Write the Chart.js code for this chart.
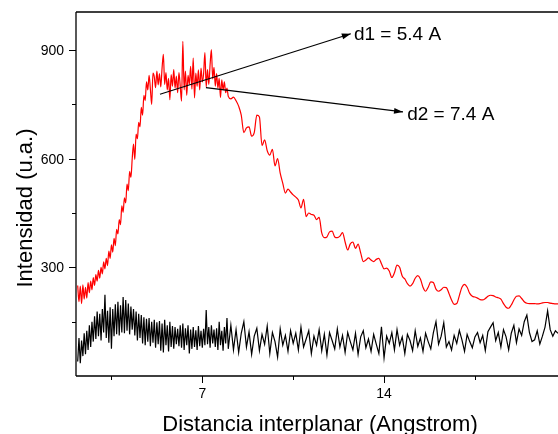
<!DOCTYPE html>
<html>
<head>
<meta charset="utf-8">
<script src="https://cdn.jsdelivr.net/npm/chart.js@4/dist/chart.umd.min.js"></script>
<style>
  html, body { margin: 0; padding: 0; background: #fff; }
  #wrap { width: 558px; height: 434px; position: relative; }
</style>
</head>
<body>
<div id="wrap"><canvas id="c"></canvas></div>
<script>
// interplanar distance (Angstrom), shared by both curves
const distance = [
  2.20,2.25,2.30,2.35,2.40,2.45,2.50,2.55,2.60,2.65,2.70,2.75,2.80,2.85,2.90,2.95,
  3.00,3.05,3.10,3.15,3.20,3.25,3.30,3.35,3.40,3.45,3.50,3.55,3.60,3.65,3.70,3.75,3.80,3.85,3.90,3.95,
  4.00,4.05,4.10,4.15,4.20,4.25,4.30,4.35,4.40,4.45,4.50,4.55,4.60,4.65,4.70,4.75,4.80,4.85,4.90,4.95,
  5.00,5.05,5.10,5.15,5.20,5.25,5.30,5.35,5.40,5.45,5.50,5.55,5.60,5.65,5.70,5.75,5.80,5.85,5.90,5.95,
  6.00,6.05,6.10,6.15,6.20,6.25,6.30,6.35,6.40,6.45,6.50,6.55,6.60,6.65,6.70,6.75,6.80,6.85,6.90,6.95,
  7.00,7.05,7.10,7.15,7.20,7.25,7.30,7.35,7.40,7.45,7.50,7.55,7.60,7.65,7.70,7.75,7.80,7.85,7.90,7.95,
  8.00,8.1,8.2,8.3,8.4,8.5,8.6,8.7,8.8,8.9,
  9.0,9.1,9.2,9.3,9.4,9.5,9.6,9.7,9.8,9.9,
  10.0,10.1,10.2,10.3,10.4,10.5,10.6,10.7,10.8,10.9,
  11.0,11.1,11.2,11.3,11.4,11.5,11.6,11.7,11.8,11.9,
  12.0,12.1,12.2,12.3,12.4,12.5,12.6,12.7,12.8,12.9,
  13.0,13.1,13.2,13.3,13.4,13.5,13.6,13.7,13.8,13.9,
  14.0,14.1,14.2,14.3,14.4,14.5,14.6,14.7,14.8,14.9,
  15.0,15.1,15.2,15.3,15.4,15.5,15.6,15.7,15.8,15.9,
  16.0,16.1,16.2,16.3,16.4,16.5,16.6,16.7,16.8,16.9,
  17.0,17.1,17.2,17.3,17.4,17.5,17.6,17.7,17.8,17.9,
  18.0,18.1,18.2,18.3,18.4,18.5,18.6,18.7,18.8,18.9,
  19.0,19.1,19.2,19.3,19.4,19.5,19.6,19.7,19.8,19.9,
  20.0,20.1,20.2,20.3,20.4,20.5,20.6,20.7
];

// red curve
const redIntensity = [
  250,205,248,200,252,212,245,215,258,230,262,238,272,250,280,262,
  292,270,300,282,315,296,325,305,345,325,362,342,380,360,405,392,432,418,470,452,
  492,478,530,512,565,548,600,640,598,668,655,700,688,742,720,775,760,812,790,830,
  792,750,836,826,796,842,804,835,798,850,888,805,838,790,822,763,832,800,846,795,
  828,782,838,800,759,924,790,842,775,830,805,855,792,878,768,836,800,845,790,850,
  812,835,893,798,846,805,860,901,820,852,800,835,795,822,769,818,790,812,782,795,
  772,765,770,760,745,720,672,685,688,662,
  672,720,715,636,652,622,610,626,580,600,
  560,532,505,516,508,500,494,486,464,488,
  440,450,446,444,432,438,395,382,384,398,
  400,384,382,386,396,370,348,365,370,352,
  364,340,316,320,326,320,316,322,325,310,
  296,298,290,272,285,306,300,276,268,255,
  248,255,270,277,268,245,234,245,260,258,
  240,234,238,245,244,228,210,198,200,222,
  245,253,245,228,220,218,215,211,210,214,
  220,223,222,218,216,212,200,190,187,196,
  210,220,221,214,205,201,200,200,200,199,
  200,202,203,203,201,200,199,199
];

// black curve
const blackIntensity = [
  40,105,35,98,55,118,60,125,72,140,80,150,95,165,102,178,
  110,172,98,185,120,224,105,180,92,190,75,185,110,198,115,205,112,195,120,218,
  118,210,125,200,115,192,128,185,112,178,98,172,105,168,90,162,85,158,95,160,
  82,150,92,155,78,148,88,152,70,145,65,155,85,140,68,150,80,138,75,135,
  88,130,82,140,78,145,72,132,85,140,62,128,75,135,80,126,72,138,82,125,
  78,130,85,182,88,135,78,140,90,128,80,132,72,150,85,125,70,135,90,160,
  75,140,72,128,65,118,150,80,122,60,
  110,132,70,115,88,138,62,120,95,52,
  130,85,112,68,125,90,118,72,135,80,
  102,125,62,110,85,128,70,115,58,120,
  98,75,130,80,112,65,120,95,72,118,
  60,108,125,78,102,68,115,88,62,136,
  50,110,90,120,72,128,85,108,62,115,
  98,70,125,82,105,68,118,95,75,120,
  150,88,110,147,80,95,72,112,90,126,
  100,68,115,95,78,108,120,92,112,70,
  122,135,147,98,120,80,128,108,72,118,
  140,92,130,112,150,168,120,95,100,125,
  88,110,135,180,128,110,125,118
];

const xMajor = [7, 14];
const xMinor = [3.5, 10.5, 17.5];
const yMajor = [300, 600, 900];
const yMinor = [150, 450, 750];

// annotation arrows, in data units
const notes = [
  { from: [5.37, 778], to: [12.72, 945], text: 'd1 = 5.4 A', at: [12.84, 929] },
  { from: [7.14, 796], to: [14.73, 729], text: 'd2 = 7.4 A', at: [14.89, 706] }
];

const FONT = "'Liberation Sans', Arial, sans-serif";
Chart.defaults.font.family = FONT;
Chart.defaults.color = '#000';

function arrow(ctx, x0, y0, x1, y1){
  ctx.beginPath(); ctx.moveTo(x0, y0); ctx.lineTo(x1, y1); ctx.stroke();
  const a = Math.atan2(y1 - y0, x1 - x0), L = 9, W = 3;
  ctx.beginPath();
  ctx.moveTo(x1, y1);
  ctx.lineTo(x1 - L*Math.cos(a) + W*Math.sin(a), y1 - L*Math.sin(a) - W*Math.cos(a));
  ctx.lineTo(x1 - L*Math.cos(a) - W*Math.sin(a), y1 - L*Math.sin(a) + W*Math.cos(a));
  ctx.closePath(); ctx.fill();
}

// frame, tick marks + labels, titles and arrows
const decor = {
  id: 'decor',
  afterDraw(chart){
    const { ctx, chartArea: a, scales: { x, y } } = chart;
    ctx.save();
    ctx.strokeStyle = '#000'; ctx.fillStyle = '#000'; ctx.lineWidth = 1.3;
    ctx.beginPath();
    ctx.moveTo(a.left, a.top); ctx.lineTo(a.right, a.top);
    ctx.moveTo(a.left, a.top); ctx.lineTo(a.left, a.bottom);
    ctx.moveTo(a.left, a.bottom); ctx.lineTo(a.right, a.bottom);
    ctx.stroke();
    ctx.lineWidth = 1;
    ctx.beginPath();
    xMajor.forEach(v => { const p = Math.round(x.getPixelForValue(v)) + 0.5; ctx.moveTo(p, a.bottom); ctx.lineTo(p, a.bottom + 7); });
    xMinor.forEach(v => { const p = Math.round(x.getPixelForValue(v)) + 0.5; ctx.moveTo(p, a.bottom); ctx.lineTo(p, a.bottom + 4); });
    yMajor.forEach(v => { const p = Math.round(y.getPixelForValue(v)) + 0.5; ctx.moveTo(a.left, p); ctx.lineTo(a.left - 7, p); });
    yMinor.forEach(v => { const p = Math.round(y.getPixelForValue(v)) + 0.5; ctx.moveTo(a.left, p); ctx.lineTo(a.left - 4, p); });
    ctx.stroke();

    // tick labels
    ctx.font = '14px ' + FONT;
    ctx.textBaseline = 'alphabetic';
    ctx.textAlign = 'center';
    xMajor.forEach(v => ctx.fillText(String(v), x.getPixelForValue(v), a.bottom + 22));
    ctx.textAlign = 'right';
    yMajor.forEach(v => ctx.fillText(String(v), a.left - 12, y.getPixelForValue(v) + 5));

    ctx.lineWidth = 1.2;
    ctx.font = '19px ' + FONT;
    ctx.textAlign = 'left';
    notes.forEach(n => {
      arrow(ctx, x.getPixelForValue(n.from[0]), y.getPixelForValue(n.from[1]),
                 x.getPixelForValue(n.to[0]), y.getPixelForValue(n.to[1]));
      ctx.fillText(n.text, x.getPixelForValue(n.at[0]), y.getPixelForValue(n.at[1]));
    });

    ctx.font = '22px ' + FONT;
    ctx.textAlign = 'center';
    ctx.fillText('Distancia interplanar (Angstrom)', 320, 431);
    ctx.translate(32, 208);
    ctx.rotate(-Math.PI / 2);
    ctx.fillText('Intensidad (u.a.)', 0, 0);
    ctx.restore();
  }
};

new Chart(document.getElementById('c'), {
  type: 'line',
  data: {
    datasets: [
      { data: distance.map((d, i) => ({ x: d, y: redIntensity[i] })), borderColor: '#ff0000', borderWidth: 1.2, cubicInterpolationMode: 'monotone' },
      { data: distance.map((d, i) => ({ x: d, y: blackIntensity[i] })), borderColor: '#000000', borderWidth: 1.2 }
    ]
  },
  options: {
    responsive: true,
    maintainAspectRatio: false,
    animation: false,
    layout: { padding: { top: 12, left: 0, right: 0, bottom: 0 } },
    elements: { point: { radius: 0 }, line: { tension: 0 } },
    plugins: { legend: { display: false }, tooltip: { enabled: false } },
    scales: {
      x: {
        type: 'linear', min: 2.135, max: 20.7,
        grid: { display: false }, border: { display: false },
        ticks: { display: false },
        afterFit: s => { s.height = 58; }
      },
      y: {
        min: 0, max: 1005,
        grid: { display: false }, border: { display: false },
        ticks: { display: false },
        afterFit: s => { s.width = 76; }
      }
    }
  },
  plugins: [decor]
});
</script>
</body>
</html>
